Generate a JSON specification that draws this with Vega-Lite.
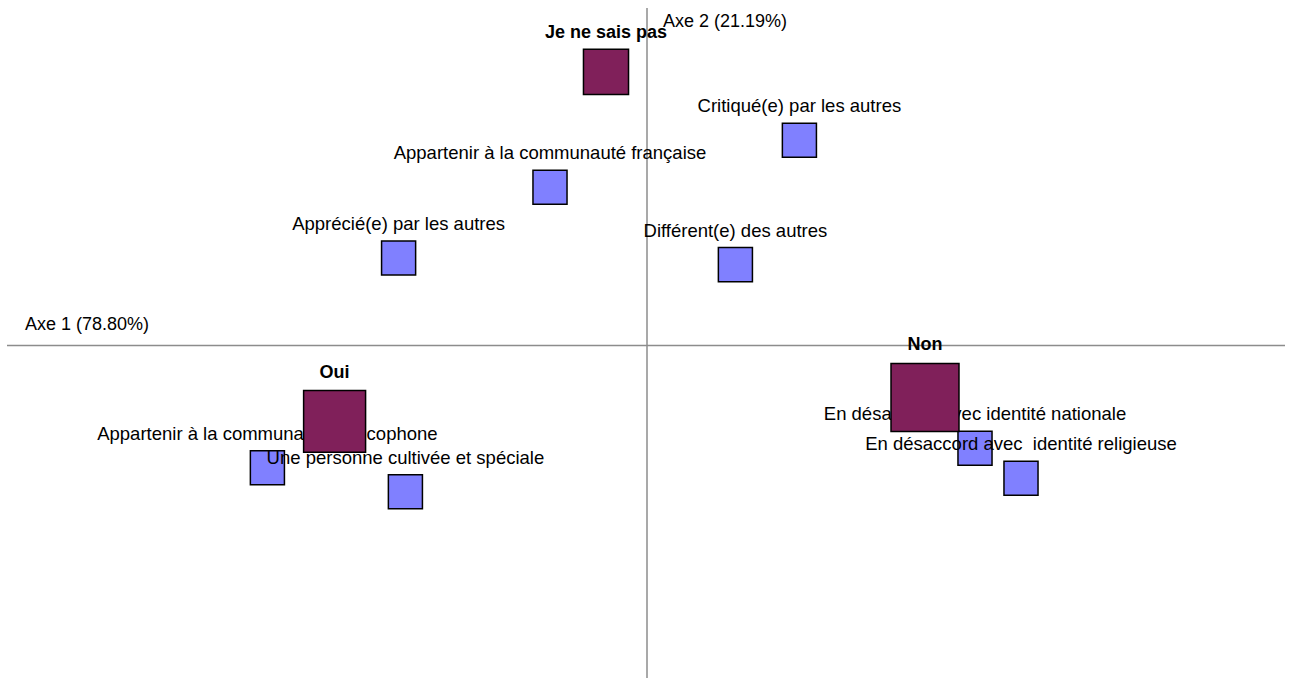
{
  "$schema": "https://vega.github.io/schema/vega-lite/v6.json",
  "width": 1293,
  "height": 679,
  "padding": 0,
  "autosize": {"type": "fit", "contains": "padding"},
  "background": "white",
  "config": {"view": {"stroke": null}, "font": "Liberation Sans"},
  "datasets": {
    "axes": [
      {"x": -1.6, "x2": 1.595, "y": 0, "y2": 0},
      {"x": 0, "x2": 0, "y": 0.845, "y2": -0.8325}
    ],
    "titres": [
      {"texte": "Axe 1 (78.80%)", "x": -1.555, "y": 0.0525},
      {"texte": "Axe 2 (21.19%)", "x": 0.04, "y": 0.81}
    ],
    "modalites": [
      {"nom": "Je ne sais pas", "type": "colonne", "x": -0.1025, "y": 0.685, "poids": 20.3},
      {"nom": "Oui", "type": "colonne", "x": -0.781, "y": -0.19, "poids": 38.4},
      {"nom": "Non", "type": "colonne", "x": 0.695, "y": -0.13, "poids": 46.2},
      {"nom": "Critiqué(e) par les autres", "type": "ligne", "x": 0.381, "y": 0.514, "poids": 11.6},
      {"nom": "Appartenir à la communauté française", "type": "ligne", "x": -0.2425, "y": 0.396, "poids": 11.6},
      {"nom": "Apprécié(e) par les autres", "type": "ligne", "x": -0.621, "y": 0.219, "poids": 11.6},
      {"nom": "Différent(e) des autres", "type": "ligne", "x": 0.221, "y": 0.2025, "poids": 11.6},
      {"nom": "Appartenir à la communauté francophone", "type": "ligne", "x": -0.949, "y": -0.306, "poids": 11.6},
      {"nom": "Une personne cultivée et spéciale", "type": "ligne", "x": -0.604, "y": -0.366, "poids": 11.6},
      {"nom": "En désaccord avec identité nationale", "type": "ligne", "x": 0.82, "y": -0.2575, "poids": 11.6},
      {"nom": "En désaccord avec\u00a0 identité religieuse", "type": "ligne", "x": 0.935, "y": -0.3325, "poids": 11.6}
    ]
  },
  "encoding": {
    "x": {"field": "x", "type": "quantitative", "axis": null,
          "scale": {"domain": [-1.6175, 1.615], "nice": false, "zero": false}},
    "y": {"field": "y", "type": "quantitative", "axis": null,
          "scale": {"domain": [-0.8325, 0.865], "nice": false, "zero": false}}
  },
  "layer": [
    {
      "data": {"name": "axes"},
      "mark": {"type": "rule", "color": "#8c8c8c", "strokeWidth": 1.5},
      "encoding": {
        "x2": {"field": "x2"},
        "y2": {"field": "y2"}
      }
    },
    {
      "data": {"name": "titres"},
      "mark": {"type": "text", "align": "left", "baseline": "middle", "fontSize": 18, "color": "black"},
      "encoding": {"text": {"field": "texte"}}
    },
    {
      "data": {"name": "modalites"},
      "transform": [{"filter": "datum.type === 'ligne'"}],
      "layer": [
        {
          "mark": {"type": "point", "shape": "square", "filled": true, "fill": "#8080FF",
                   "stroke": "black", "strokeWidth": 1.5, "opacity": 1},
          "encoding": {
            "size": {"field": "poids", "type": "quantitative", "legend": null,
                     "scale": {"type": "linear", "domain": [0, 50], "range": [0, 5000]}}
          }
        },
        {
          "mark": {"type": "text", "align": "center", "baseline": "middle", "fontSize": 18.5,
                   "color": "black", "dy": -34},
          "encoding": {"text": {"field": "nom"}}
        }
      ]
    },
    {
      "data": {"name": "modalites"},
      "transform": [{"filter": "datum.type === 'colonne'"}],
      "layer": [
        {
          "mark": {"type": "point", "shape": "square", "filled": true, "fill": "#80205A",
                   "stroke": "black", "strokeWidth": 1.5, "opacity": 1},
          "encoding": {
            "size": {"field": "poids", "type": "quantitative", "legend": null,
                     "scale": {"type": "linear", "domain": [0, 50], "range": [0, 5000]}}
          }
        },
        {
          "transform": [{"filter": "datum.nom === 'Je ne sais pas'"}],
          "mark": {"type": "text", "align": "center", "baseline": "middle", "fontSize": 18,
                   "fontWeight": "bold", "color": "black", "dy": -39},
          "encoding": {"text": {"field": "nom"}}
        },
        {
          "transform": [{"filter": "datum.nom === 'Oui'"}],
          "mark": {"type": "text", "align": "center", "baseline": "middle", "fontSize": 18,
                   "fontWeight": "bold", "color": "black", "dy": -48},
          "encoding": {"text": {"field": "nom"}}
        },
        {
          "transform": [{"filter": "datum.nom === 'Non'"}],
          "mark": {"type": "text", "align": "center", "baseline": "middle", "fontSize": 18,
                   "fontWeight": "bold", "color": "black", "dy": -52},
          "encoding": {"text": {"field": "nom"}}
        }
      ]
    }
  ]
}
